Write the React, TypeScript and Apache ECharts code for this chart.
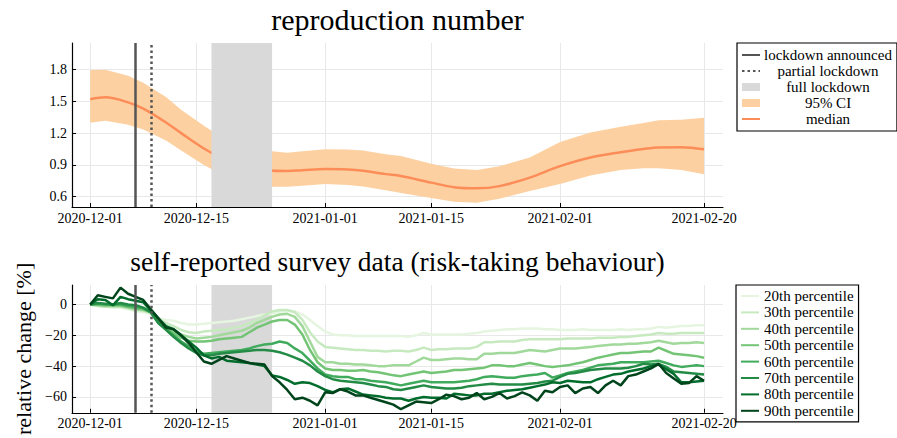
import React, { useEffect, useRef } from 'react';
import * as echarts from 'echarts';

const FONT = 'Liberation Serif, serif';

// x axis: days since 2020-12-01
const TICK_DAYS = [0, 14, 31, 45, 62, 81];
const TICK_LABELS = ['2020-12-01', '2020-12-15', '2021-01-01', '2021-01-15', '2021-02-01', '2021-02-20'];

const LOCKDOWN_ANNOUNCED_DAY = 6;
const PARTIAL_LOCKDOWN_DAY = 8;
const FULL_LOCKDOWN_START = 16;
const FULL_LOCKDOWN_END = 24;

// reproduction number
const R_TICKS = [0.6, 0.9, 1.2, 1.5, 1.8];
const R_DAYS = [0, 2, 5, 7, 10, 12, 15, 18, 20, 23, 26, 28, 31, 34, 36, 39, 41, 45, 48, 51, 54, 58, 62, 66, 70, 73, 75, 78, 81];
const R_MEDIAN = [1.52, 1.538, 1.49, 1.43, 1.3, 1.2, 1.055, 0.94, 0.89, 0.853, 0.842, 0.85, 0.861, 0.857, 0.845, 0.813, 0.795, 0.733, 0.69, 0.679, 0.7, 0.78, 0.888, 0.97, 1.02, 1.05, 1.065, 1.067, 1.047];
const R_HIGH = [1.795, 1.797, 1.74, 1.675, 1.54, 1.42, 1.27, 1.13, 1.075, 1.035, 1.015, 1.03, 1.047, 1.045, 1.035, 1.0, 0.985, 0.91, 0.865, 0.852, 0.888, 0.97, 1.115, 1.205, 1.26, 1.295, 1.322, 1.325, 1.345];
const R_LOW = [1.298, 1.317, 1.28, 1.235, 1.13, 1.035, 0.9, 0.785, 0.735, 0.695, 0.694, 0.703, 0.72, 0.71, 0.697, 0.662, 0.635, 0.587, 0.553, 0.543, 0.582, 0.655, 0.72, 0.8, 0.853, 0.868, 0.868, 0.852, 0.811];

// survey data, one value per day from 2020-12-01 to 2021-02-20
const S_TICKS = [-60, -40, -20, 0];
const P20 = [0, -1, -1.5, -2, -2, -3, -4.5, -5, -6,
  -9, -10, -10.5, -12, -13, -13, -12.5,
  -12, -11.5, -11, -10.5, -9.5, -8.5, -7.5, -6.5,
  -6, -4.5, -4, -4.5, -6.5, -10, -14, -17.5,
  -19.5, -20, -20, -20.5, -20.5, -20.5, -20.5, -20.5, -20.5,
  -20.5, -21, -20, -18.5, -19.5, -19.5, -19.5, -19.5, -19.5, -19,
  -18.5, -17.5, -17, -16.5, -16, -16, -15.5, -15.5, -15.5, -16, -16,
  -16.5, -16.5, -16.5, -16, -16.5, -16.5, -16.5, -16.5, -16, -16.5, -16, -16, -15.5, -14.5, -15, -14.5, -14, -14, -13.5, -13.5];
const P30 = [0, -1, -1.5, -1.5, -1.5, -2.5, -3.5, -4, -5.5,
  -10, -12, -14, -16.5, -18, -18.5, -17.5,
  -17, -16.5, -16, -15, -14, -12, -10, -7,
  -4.5, -3.5, -3.5, -5, -10, -18, -24, -27.5,
  -28, -28.5, -29, -29.5, -29.5, -30, -30, -30.5, -30,
  -30, -30.5, -29.5, -28, -29.5, -29, -29, -28.5, -28.5, -28.5,
  -27.5, -24.5, -24.5, -24, -24, -24, -23, -22.5, -22.5, -22.5, -22.5,
  -22.5, -22, -22, -22, -22, -21.5, -21.5, -21.5, -21, -21, -20.5, -20, -19.5, -18.5, -19, -19, -18.5, -18.5, -18.5, -18.5];
const P40 = [0, -0.5, -1, -1, -1, -2, -3, -3.5, -5,
  -11, -14, -17, -19.5, -21, -22, -21.5,
  -21, -20, -19, -18, -17, -15, -12, -10,
  -8, -6.5, -6, -8, -14, -24, -34, -37.5,
  -37.5, -38.5, -38.5, -39, -39, -39.5, -40, -40, -39.5,
  -39.5, -39.5, -37, -34.5, -36, -36, -35.5, -35, -35, -35.5,
  -35.5, -32, -32, -31.5, -31.5, -31.5, -30.5, -29.5, -30, -30.5, -29.5,
  -28.5, -28.5, -28.5, -28, -27.5, -27, -26.5, -26, -26, -25.5, -25.5, -25, -24.5, -23.5, -24.5, -25.5, -25, -25, -24.5, -25];
const P50 = [0, 0, -0.5, -0.5, -0.5, -1.5, -2.5, -3, -5,
  -12, -15.5, -18.5, -21.5, -23.5, -24, -24,
  -23.5, -22.5, -22, -21.5, -21, -18, -15, -13,
  -11, -10, -10, -13, -19.5, -29.5, -37.5, -41.5,
  -42.5, -42.5, -43, -43, -42.5, -43.5, -44, -45, -46,
  -46.5, -45.5, -44.5, -43.5, -44.5, -44, -43.5, -42.5, -42.5, -42,
  -41.5, -41, -39.5, -39.5, -40, -40, -39, -38, -39, -40, -40.5,
  -40, -39.5, -38.5, -37.5, -36, -34.5, -33.5, -32.5, -31.5, -31.5, -31, -30.5, -30.5, -28, -30, -32, -32.5, -33, -33.5, -34.5];
const P60 = [0, 0.5, 0, 0, 0, -1, -1.5, -2.5, -5,
  -12, -16, -20, -24, -27, -30, -32,
  -31.5, -31, -30.5, -30, -29.5, -28.5, -27, -26,
  -25.5, -24, -25, -28.5, -31.5, -36.5, -41.5, -45.5,
  -46.5, -47, -47, -48.5, -48.5, -49.5, -50, -50.5, -51.5,
  -52.5, -51.5, -50.5, -49.5, -50.5, -50.5, -50.5, -50.5, -50, -49.5,
  -48.5, -47, -46.5, -47, -47.5, -47.5, -46.5, -46, -45.5, -44.5, -47.5,
  -46, -44.5, -43.5, -42.5, -41, -39.5, -39, -38.5, -37.5, -37.5, -37.5, -37.5, -37, -36.5, -38, -39.5, -40.5, -40, -39.5, -40];
const P70 = [0, 1, 0.5, 0, 1, 0, -0.5, -2, -5,
  -12, -16.5, -21, -25, -28.5, -31.5, -33,
  -33, -32, -31.5, -31, -30.5, -30, -29.5, -29.5,
  -30, -31, -32.5, -34.5, -36.5, -39.5, -43.5, -46.5,
  -48.5, -49.5, -50, -50.5, -51, -52, -53, -53.5, -55,
  -55.5, -54.5, -53.5, -52.5, -53.5, -54, -54.5, -54.5, -54, -53,
  -52.5, -52, -51.5, -52, -52, -52, -52, -51.5, -51, -50, -49.5,
  -47, -45, -44.5, -43.5, -42.5, -42, -41.5, -41.5, -41.5, -41, -40, -38.5, -39, -38.5, -40.5, -43.5, -44, -44.5, -45, -45.5];
const P80 = [0, 3.5, 3, -0.5, 5, 3.5, 2.5, 1.5, -4,
  -9, -14, -16, -20, -24, -28, -33,
  -35, -34, -36.5, -37, -37.5, -38, -39, -40,
  -46, -47, -49, -51.5, -50.5, -51, -53, -55.5,
  -57, -55, -54.5, -56.5, -58.5, -59, -59.5, -60.5, -61,
  -61, -62.5, -61, -60, -60.5, -60.5, -61, -58, -58.5, -59,
  -59, -58, -58, -57, -56, -55.5, -55, -54, -53, -52, -50.5,
  -51, -49.5, -50, -50.5, -50.5, -48.5, -47, -45.5, -45, -43.5, -42.5, -41.5, -40, -39, -42, -45, -50.5, -50.5, -50, -49.5];
const P90 = [0, 6, 5, 4, 11, 7, 5, 3, -3,
  -9, -15, -16, -20, -25, -31, -37,
  -38.5, -36, -33.5, -35, -36.5, -38, -38.5, -39,
  -46.5, -50.5, -55.5, -61.5, -60.5, -62.5, -65.5, -57,
  -57.5, -55, -56.5, -59, -59, -60.5, -62, -63.5, -65,
  -68, -65.5, -63, -63.5, -64, -61.5, -58.5, -59.5, -61.5, -60.5,
  -57.5, -61.5, -60, -57.5, -61, -59.5, -57, -59, -62.5, -56, -57,
  -53.5, -52.5, -57.5, -54.5, -53.5, -57.5, -52.5, -49.5, -52.5, -46.5, -45.5, -43.5, -41.5, -38.5, -44.5, -48, -51.5, -51, -46.5, -49.5];

const PERCENTILES = [P20, P30, P40, P50, P60, P70, P80, P90];
const PERCENTILE_NAMES = ['20th percentile', '30th percentile', '40th percentile', '50th percentile', '60th percentile', '70th percentile', '80th percentile', '90th percentile'];
const GREENS = ['#e5f5e0', '#c7e9c0', '#a1d99b', '#74c476', '#41ab5d', '#238b45', '#006d2c', '#00441b'];

const CI_COLOR = '#fdd0a2';
const MEDIAN_COLOR = '#fc8d59';
const SHADE_COLOR = '#d9d9d9';
const VLINE_COLOR = '#555555';
const GRID_COLOR = '#e8e8e8';

const fmtDay = (v: number) => {
  const i = TICK_DAYS.indexOf(Math.round(v));
  return i >= 0 ? TICK_LABELS[i] : '';
};
const fmtMinus = (v: number) => (v < 0 ? '\u2212' + Math.abs(v) : String(v));

function xAxisFor(gridIndex: number) {
  return {
    type: 'value',
    gridIndex,
    min: -2.4,
    max: 83.5,
    axisLine: { show: true, onZero: false, lineStyle: { color: '#000', width: 1.2 } },
    axisTick: { show: true, inside: true, length: 4, customValues: TICK_DAYS, lineStyle: { color: '#000' } },
    axisLabel: { customValues: TICK_DAYS, formatter: fmtDay, fontFamily: FONT, fontSize: 14, color: '#000', margin: 4 },
    splitLine: { show: true, lineStyle: { color: GRID_COLOR, width: 1 } },
  };
}

function yAxisFor(gridIndex: number, min: number, max: number, ticks: number[], formatter: (v: number) => string, extra: any = {}) {
  return {
    type: 'value',
    gridIndex,
    min,
    max,
    axisLine: { show: true, onZero: false, lineStyle: { color: '#000', width: 1.2 } },
    axisTick: { show: true, inside: true, length: 4, customValues: ticks, lineStyle: { color: '#000' } },
    axisLabel: { customValues: ticks, formatter, fontFamily: FONT, fontSize: 14, color: '#000', margin: 5 },
    splitLine: { show: true, lineStyle: { color: GRID_COLOR, width: 1 } },
    ...extra,
  };
}

export default function App() {
  const ref = useRef<HTMLDivElement>(null);

  useEffect(() => {
    if (!ref.current) return;
    const chart = echarts.init(ref.current, undefined, { renderer: 'svg' });

    const percentileSeries = PERCENTILES.map((vals, k) => ({
      type: 'line',
      name: PERCENTILE_NAMES[k],
      xAxisIndex: 1,
      yAxisIndex: 1,
      data: vals.map((v, i) => [i, v]),
      symbol: 'none',
      color: GREENS[k],
      lineStyle: { color: GREENS[k], width: 2.5 },
      z: 2 + k * 0.01,
      silent: true,
    }));

    const option: any = {
      animation: false,
      backgroundColor: '#ffffff',
      textStyle: { fontFamily: FONT },
      graphic: [
        {
          type: 'text', x: 397.5, y: 19,
          style: { text: 'reproduction number', fontFamily: FONT, fontSize: 30, fill: '#000', align: 'center', verticalAlign: 'middle' },
        },
        {
          type: 'text', x: 397.5, y: 261,
          style: { text: 'self-reported survey data (risk-taking behaviour)', fontFamily: FONT, fontSize: 27.5, fill: '#000', align: 'center', verticalAlign: 'middle' },
        },
      ],
      grid: [
        { left: 72, top: 43, width: 651, height: 164, containLabel: false },
        { left: 72, top: 285, width: 651, height: 137, containLabel: false },
      ],
      xAxis: [xAxisFor(0), xAxisFor(1)],
      yAxis: [
        yAxisFor(0, 0.503, 2.05, R_TICKS, (v: number) => v.toFixed(1)),
        yAxisFor(1, -70.3, 12.7, S_TICKS, fmtMinus, {
          name: 'relative change [%]',
          nameLocation: 'middle',
          nameGap: 38,
          nameRotate: 90,
          nameTextStyle: { fontFamily: FONT, fontSize: 22, color: '#000' },
        }),
      ],
      legend: [
        {
          left: 737, top: 43, orient: 'vertical',
          itemWidth: 18, itemHeight: 8, itemGap: 0,
          padding: [4, 5, 4, 4],
          borderColor: '#000', borderWidth: 1.2, backgroundColor: '#fff',
          selectedMode: false,
          itemStyle: { opacity: 0 },
          data: [
            'lockdown announced',
            'partial lockdown',
            { name: 'full lockdown', icon: 'rect', itemStyle: { opacity: 1, color: SHADE_COLOR } },
            { name: '95% CI', icon: 'rect', itemStyle: { opacity: 1, color: CI_COLOR } },
            'median',
          ],
          formatter: (name: string) => `{c|${name}}`,
          textStyle: {
            fontFamily: FONT, fontSize: 15, color: '#000', lineHeight: 16,
            rich: { c: { width: 126, align: 'center', fontFamily: FONT, fontSize: 15, lineHeight: 16, color: '#000' } },
          },
        },
        {
          left: 736, top: 285, orient: 'vertical',
          itemWidth: 18, itemHeight: 8, itemGap: 0.4,
          padding: [3, 5, 3, 4],
          borderColor: '#000', borderWidth: 1.2, backgroundColor: '#fff',
          selectedMode: false,
          itemStyle: { opacity: 0 },
          data: PERCENTILE_NAMES,
          textStyle: { fontFamily: FONT, fontSize: 15, color: '#000', lineHeight: 16 },
        },
      ],
      series: [
        {
          type: 'custom',
          name: '95% CI',
          xAxisIndex: 0,
          yAxisIndex: 0,
          data: R_DAYS.map((d, i) => [d, R_LOW[i], R_HIGH[i]]),
          encode: { x: 0, y: [1, 2] },
          itemStyle: { color: CI_COLOR },
          color: CI_COLOR,
          z: 2,
          silent: true,
          renderItem: (params: any, api: any) => {
            if (params.dataIndex !== 0) return null;
            const upper = R_DAYS.map((d, i) => api.coord([d, R_HIGH[i]]));
            const lower = R_DAYS.map((d, i) => api.coord([d, R_LOW[i]])).reverse();
            return {
              type: 'polygon',
              shape: { points: upper.concat(lower) },
              style: { fill: CI_COLOR, stroke: null },
            };
          },
        },
        {
          type: 'line',
          name: 'median',
          xAxisIndex: 0,
          yAxisIndex: 0,
          data: R_DAYS.map((d, i) => [d, R_MEDIAN[i]]),
          smooth: 0.35,
          symbol: 'none',
          color: MEDIAN_COLOR,
          lineStyle: { color: MEDIAN_COLOR, width: 2.5 },
          z: 3,
          silent: true,
        },
        {
          type: 'line',
          name: 'full lockdown',
          xAxisIndex: 0,
          yAxisIndex: 0,
          data: [],
          symbol: 'none',
          color: SHADE_COLOR,
          itemStyle: { color: SHADE_COLOR },
          z: 4,
          markArea: {
            silent: true,
            z: 4,
            itemStyle: { color: SHADE_COLOR, opacity: 1 },
            data: [[{ xAxis: FULL_LOCKDOWN_START }, { xAxis: FULL_LOCKDOWN_END }]],
          },
        },
        {
          type: 'line',
          name: 'lockdown announced',
          xAxisIndex: 0,
          yAxisIndex: 0,
          data: [],
          symbol: 'none',
          color: VLINE_COLOR,
          lineStyle: { color: VLINE_COLOR, width: 2.5, type: 'solid' },
          markLine: {
            silent: true,
            symbol: ['none', 'none'],
            label: { show: false },
            lineStyle: { color: VLINE_COLOR, width: 2.5, type: 'solid' },
            data: [{ xAxis: LOCKDOWN_ANNOUNCED_DAY }],
          },
        },
        {
          type: 'line',
          name: 'partial lockdown',
          xAxisIndex: 0,
          yAxisIndex: 0,
          data: [],
          symbol: 'none',
          color: VLINE_COLOR,
          lineStyle: { color: VLINE_COLOR, width: 2.5, type: [2.5, 3] },
          markLine: {
            silent: true,
            symbol: ['none', 'none'],
            label: { show: false },
            lineStyle: { color: VLINE_COLOR, width: 2.5, type: [2.5, 3] },
            data: [{ xAxis: PARTIAL_LOCKDOWN_DAY }],
          },
        },
        // bottom panel: shade + lockdown lines
        {
          type: 'line',
          name: '_bottom_markers',
          xAxisIndex: 1,
          yAxisIndex: 1,
          data: [],
          symbol: 'none',
          markArea: {
            silent: true,
            itemStyle: { color: SHADE_COLOR, opacity: 1 },
            data: [[{ xAxis: FULL_LOCKDOWN_START }, { xAxis: FULL_LOCKDOWN_END }]],
          },
          markLine: {
            silent: true,
            symbol: ['none', 'none'],
            label: { show: false },
            data: [
              { xAxis: LOCKDOWN_ANNOUNCED_DAY, lineStyle: { color: VLINE_COLOR, width: 2.5, type: 'solid' } },
              { xAxis: PARTIAL_LOCKDOWN_DAY, lineStyle: { color: VLINE_COLOR, width: 2.5, type: [2.5, 3] } },
            ],
          },
        },
        ...percentileSeries,
      ],
    };

    chart.setOption(option);
    return () => chart.dispose();
  }, []);

  return (
    <div
      ref={ref}
      style={{ position: 'absolute', left: 0, top: 0, width: 897, height: 438, background: '#fff' }}
    />
  );
}
